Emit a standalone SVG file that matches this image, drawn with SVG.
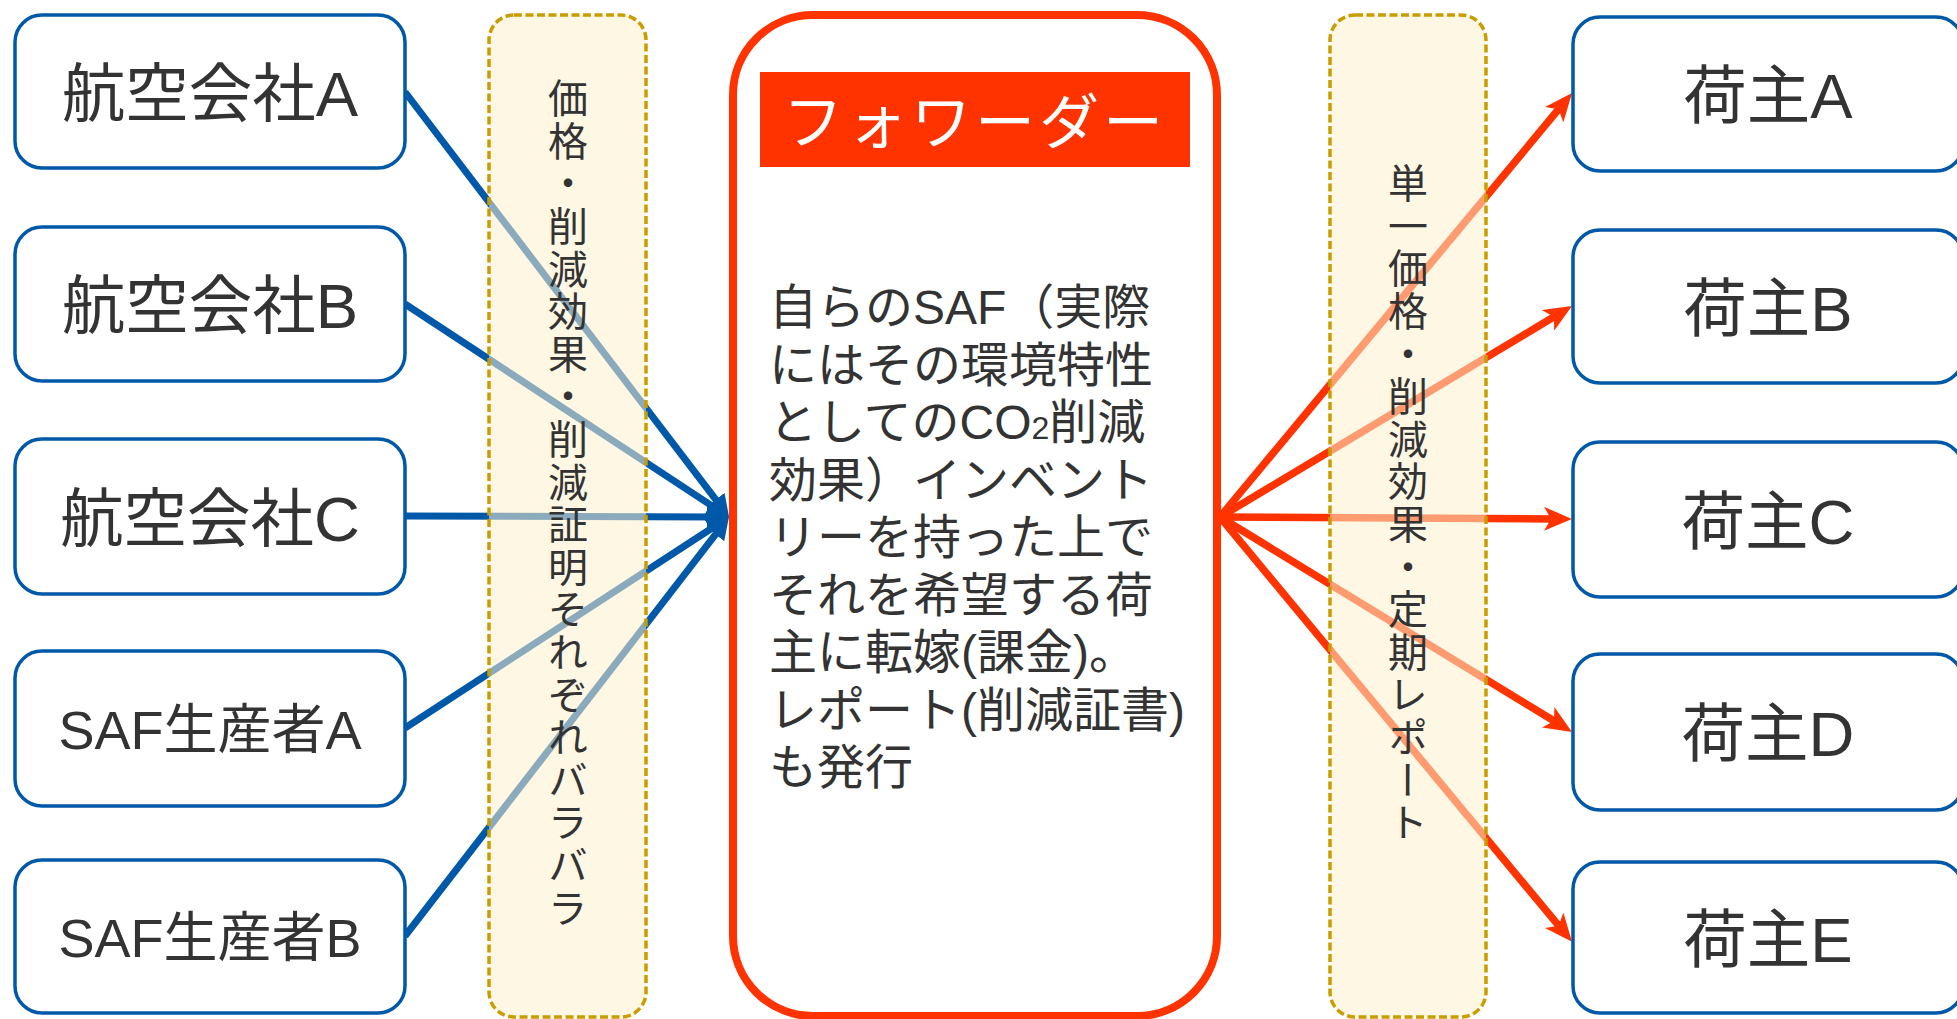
<svg xmlns="http://www.w3.org/2000/svg" width="1957" height="1019" viewBox="0 0 1957 1019">
<style>
.node rect{fill:#ffffff;stroke:#0058a8;stroke-width:3.5}
.lbl{font-family:"Liberation Sans","Noto Sans CJK JP",sans-serif;fill:#333333}
.big{font-size:63.5px}
.mid{font-size:54px}
.band{fill:#fdf0cc;fill-opacity:0.55;stroke:#c99c00;stroke-width:3.5;stroke-dasharray:8 3.5}
.vt{font-family:"Noto Sans CJK JP",sans-serif;font-size:40px;fill:#333333;writing-mode:vertical-rl;letter-spacing:2.6px}
.blue{stroke:#0058a8;stroke-width:7;fill:none;marker-end:url(#ab)}
.red{stroke:#ff3300;stroke-width:7.5;fill:none;marker-end:url(#ar)}
.body{font-family:"Liberation Sans","Noto Sans CJK JP",sans-serif;font-size:48px;fill:#333333}
</style>
<defs>
<marker id="ab" markerUnits="userSpaceOnUse" markerWidth="22" markerHeight="22" viewBox="0 0 22 22" refX="7" refY="11" orient="auto"><path d="M0,0 L22,11 L0,22 z" fill="#0058a8"/></marker>
<marker id="ar" markerUnits="userSpaceOnUse" markerWidth="28" markerHeight="24" viewBox="0 0 28 24" refX="9" refY="12" orient="auto"><path d="M0,0 L28,12 L0,24 L7,12 z" fill="#ff3300"/></marker>
</defs>
<rect width="1957" height="1019" fill="#ffffff"/>

<g id="connectors">
<line class="blue" x1="405" y1="92" x2="720" y2="505.1"/>
<line class="blue" x1="405" y1="304" x2="716.5" y2="508.8"/>
<line class="blue" x1="405" y1="516" x2="714" y2="517"/>
<line class="blue" x1="405" y1="728" x2="716.4" y2="525.2"/>
<line class="blue" x1="405" y1="936" x2="719.8" y2="528.9"/>
<line class="red" x1="1220" y1="517" x2="1559.9" y2="107.7"/>
<line class="red" x1="1220" y1="517" x2="1555.7" y2="315.8"/>
<line class="red" x1="1220" y1="517" x2="1553" y2="518.9"/>
<line class="red" x1="1220" y1="517" x2="1555.8" y2="722"/>
<line class="red" x1="1220" y1="517" x2="1559.9" y2="927.2"/>
</g>

<g id="band-left">
<rect class="band" x="489" y="15" width="157" height="1002" rx="25"/>
<text class="vt" x="568" y="78">価格・削減効果・削減証明それぞれバラバラ</text>
</g>
<g id="band-right">
<rect class="band" x="1330" y="15" width="156" height="1002" rx="25"/>
<text class="vt" x="1408" y="163">単一価格・削減効果・定期レポート</text>
</g>

<g id="airline-a" class="node"><rect x="15" y="15" width="390" height="153" rx="27"/><text class="lbl big" x="210" y="116" text-anchor="middle">航空会社A</text></g>
<g id="airline-b" class="node"><rect x="15" y="227" width="390" height="154" rx="27"/><text class="lbl big" x="210" y="328" text-anchor="middle">航空会社B</text></g>
<g id="airline-c" class="node"><rect x="15" y="439" width="390" height="155" rx="27"/><text class="lbl big" x="210" y="541" text-anchor="middle">航空会社C</text></g>
<g id="saf-a" class="node"><rect x="15" y="651" width="390" height="155" rx="27"/><text class="lbl mid" x="210" y="749" text-anchor="middle">SAF生産者A</text></g>
<g id="saf-b" class="node"><rect x="15" y="860" width="390" height="153" rx="27"/><text class="lbl mid" x="210" y="957" text-anchor="middle">SAF生産者B</text></g>

<g id="forwarder">
<rect x="733" y="15" width="484" height="1001" rx="80" fill="#ffffff" stroke="#ff3300" stroke-width="8"/>
<rect x="760" y="72" width="430" height="95" fill="#ff3300"/>
<text x="783" y="144" font-family="Noto Sans CJK JP,sans-serif" font-size="60" letter-spacing="4" fill="#ffffff">フォワーダー</text>
<text class="body">
<tspan x="769" y="324">自らのSAF（実際</tspan>
<tspan x="769" y="381.5">にはその環境特性</tspan>
<tspan x="769" y="439">としてのCO<tspan font-size="32">2</tspan>削減</tspan>
<tspan x="769" y="496.5">効果）インベント</tspan>
<tspan x="769" y="554">リーを持った上で</tspan>
<tspan x="769" y="611.5">それを希望する荷</tspan>
<tspan x="769" y="669">主に転嫁(課金)。</tspan>
<tspan x="769" y="726.5">レポート(削減証書)</tspan>
<tspan x="769" y="784">も発行</tspan>
</text>
</g>

<g id="shipper-a" class="node"><rect x="1573" y="17" width="390" height="154" rx="27"/><text class="lbl big" x="1768" y="118" text-anchor="middle">荷主A</text></g>
<g id="shipper-b" class="node"><rect x="1573" y="230" width="390" height="153" rx="27"/><text class="lbl big" x="1768" y="331" text-anchor="middle">荷主B</text></g>
<g id="shipper-c" class="node"><rect x="1573" y="442" width="390" height="155" rx="27"/><text class="lbl big" x="1768" y="544" text-anchor="middle">荷主C</text></g>
<g id="shipper-d" class="node"><rect x="1573" y="654" width="390" height="156" rx="27"/><text class="lbl big" x="1768" y="756" text-anchor="middle">荷主D</text></g>
<g id="shipper-e" class="node"><rect x="1573" y="862" width="390" height="151" rx="27"/><text class="lbl big" x="1768" y="962" text-anchor="middle">荷主E</text></g>
</svg>
